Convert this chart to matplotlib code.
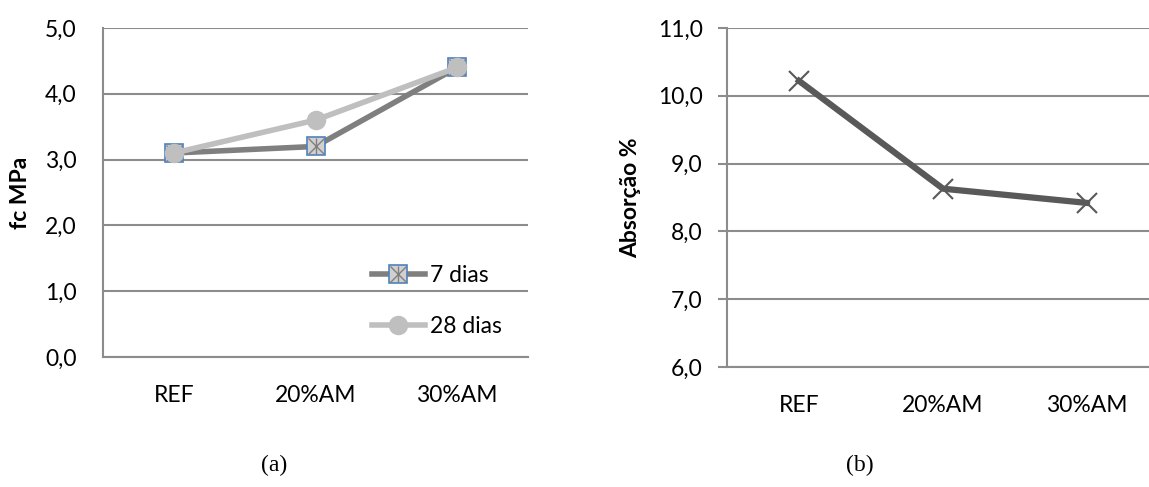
import numpy as np
import matplotlib.pyplot as plt
from matplotlib.legend_handler import HandlerTuple

cats = ['REF', '20%AM', '30%AM']
fc_7 = [3.1, 3.2, 4.4]
fc_28 = [3.1, 3.6, 4.4]
absorcao = [10.22, 8.63, 8.42]

plt.rcParams['font.family'] = ['Lato', 'DejaVu Sans']
grid_c = '#8c8c8c'
fs = 16.5
W, H = 1149, 487

fig = plt.figure(figsize=(W / 100, H / 100), dpi=100)

# (a) resistencia
ax1 = fig.add_axes([103 / W, 1 - 357 / H, 425 / W, 329 / H])
x = np.arange(len(cats))
ax1.plot(x, fc_7, color='#7f7f7f', lw=4, zorder=3)
m1 = ax1.plot(x, fc_7, ls='none', marker='s', ms=13, mfc='#d0d0d0', mec='#4f81bd', mew=1.2, zorder=3)[0]
m2 = ax1.plot(x, fc_7, ls='none', marker='x', ms=11, mec='#7f7f7f', mew=1.0, zorder=3)[0]
m3 = ax1.plot(x, fc_7, ls='none', marker='|', ms=11, mec='#7f7f7f', mew=1.0, zorder=3)[0]
l28 = ax1.plot(x, fc_28, color='#bfbfbf', lw=4, marker='o', ms=13, mfc='#bfbfbf', mec='#bfbfbf', zorder=4)[0]
l7 = plt.Line2D([], [], color='#7f7f7f', lw=4)
ax1.set_xlim(-0.5, 2.5)
ax1.set_ylim(0, 5)
ax1.set_yticks(np.arange(0, 5.1, 1))
ax1.set_yticklabels([f'{v:.1f}'.replace('.', ',') for v in np.arange(0, 5.1, 1)])
ax1.set_xticks(x)
ax1.set_xticklabels(cats)
ax1.tick_params(axis='y', length=0, pad=19, labelsize=fs)
ax1.tick_params(axis='x', length=0, pad=20, labelsize=fs)
ax1.grid(axis='y', color=grid_c, lw=1.5)
ax1.set_axisbelow(True)
for s in ['top', 'right']:
    ax1.spines[s].set_visible(False)
for s in ['left', 'bottom']:
    ax1.spines[s].set_color(grid_c)
    ax1.spines[s].set_linewidth(1.5)
ax1.set_ylabel('fc MPa', fontsize=fs, fontweight='bold', va='center')
ax1.yaxis.set_label_coords(-0.193, 0.5)
ax1.legend([(l7, m1, m2, m3), l28], ['7 dias', '28 dias'],
           handler_map={tuple: HandlerTuple(ndivide=1)},
           loc='upper left', bbox_to_anchor=(0.633, 0.28), frameon=False,
           fontsize=fs, handlelength=2.3, handletextpad=0.25, labelspacing=1.3,
           borderpad=0, borderaxespad=0)

# (b) absorcao
ax2 = fig.add_axes([727 / W, 1 - 367 / H, 432 / W, 339 / H])
ax2.plot(x, absorcao, color='#595959', lw=4.5, marker='x', ms=15, mec='#595959', mew=1.5, zorder=3)
ax2.set_xlim(-0.5, 2.5)
ax2.set_ylim(6, 11)
ax2.set_yticks(np.arange(6, 11.1, 1))
ax2.set_yticklabels([f'{v:.1f}'.replace('.', ',') for v in np.arange(6, 11.1, 1)])
ax2.set_xticks(x)
ax2.set_xticklabels(cats)
ax2.tick_params(axis='y', length=6.5, width=1.5, color=grid_c, pad=11, labelsize=fs)
ax2.tick_params(axis='x', length=0, pad=20, labelsize=fs)
ax2.grid(axis='y', color=grid_c, lw=1.5)
ax2.set_axisbelow(True)
for s in ['top', 'right']:
    ax2.spines[s].set_visible(False)
for s in ['left', 'bottom']:
    ax2.spines[s].set_color(grid_c)
    ax2.spines[s].set_linewidth(1.5)
ax2.set_ylabel('Absorção %', fontsize=fs, fontweight='bold', va='center')
ax2.yaxis.set_label_coords(-0.222, 0.5)

fig.text(274 / W, 1 - 465 / H, '(a)', family='Liberation Serif', fontsize=17, ha='center', va='center')
fig.text(860 / W, 1 - 465 / H, '(b)', family='Liberation Serif', fontsize=17, ha='center', va='center')

fig.savefig('out.png', dpi=100)
